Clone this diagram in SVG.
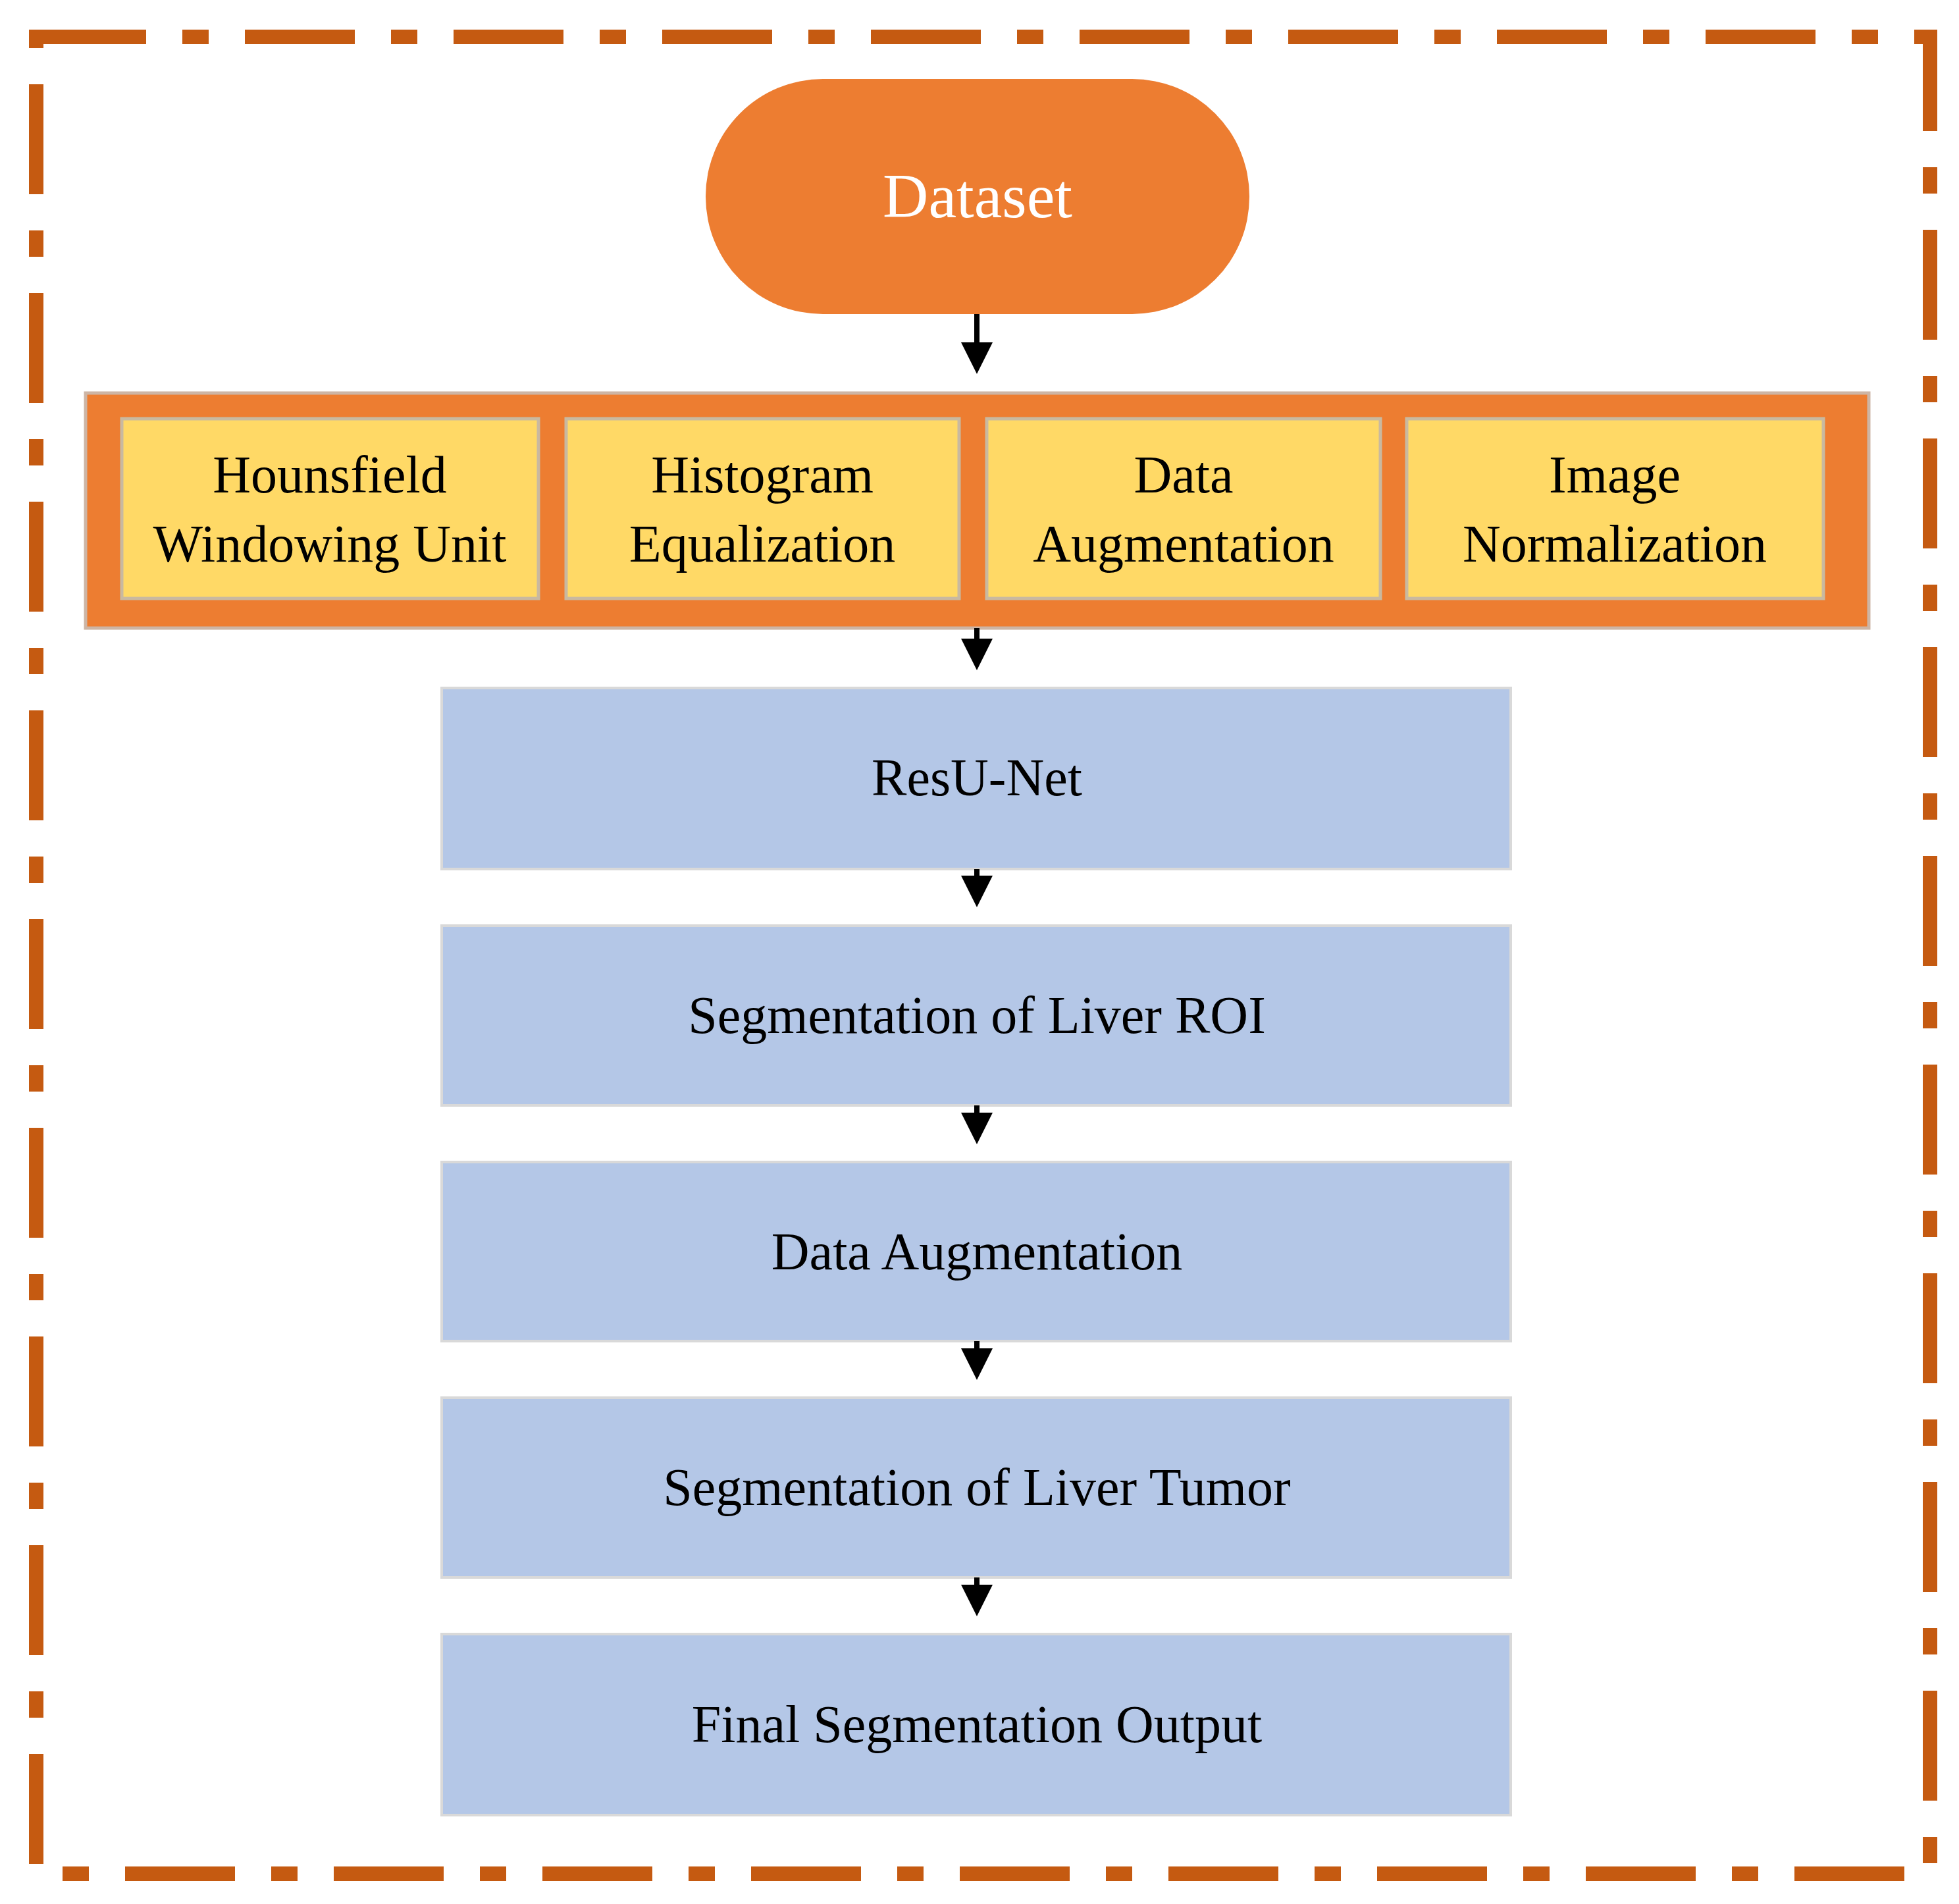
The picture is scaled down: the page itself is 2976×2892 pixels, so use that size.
<svg xmlns="http://www.w3.org/2000/svg" width="2976" height="2892" viewBox="0 0 2976 2892">
<style>
.t{font-family:"Liberation Serif",serif;fill:#000;text-anchor:middle;font-size:80px}
.b{fill:#B4C7E7;stroke:#d9d9d9;stroke-width:4}
.y{fill:#FFD966;stroke:#c9b9a0;stroke-width:5}
.c{stroke:#000;stroke-width:8;marker-end:url(#ah)}
</style>
<defs><marker id="ah" markerWidth="6" markerHeight="6" refX="5" refY="3" orient="auto" markerUnits="strokeWidth"><path d="M0,0L6,3L0,6z" fill="#000"/></marker></defs>
<rect x="2976" y="0" width="0" height="0"/>
<rect x="0" y="0" width="2976" height="2892" fill="#fff"/>
<rect id="frame" x="55" y="56" width="2877" height="2790" fill="none" stroke="#C55A11" stroke-width="22" stroke-dasharray="167 55 40 55"/>
<g id="dataset"><rect x="1072" y="120" width="826" height="357" rx="178" fill="#ED7D31"/><text class="t" x="1485" y="330" style="fill:#fff;font-size:96px">Dataset</text></g>
<g id="preprocess"><rect x="130" y="597" width="2709" height="357" fill="#ED7D31" stroke="#cdb5a5" stroke-width="5"/>
<rect class="y" x="185" y="636" width="633" height="273"/><text class="t" x="501" y="748">Hounsfield</text><text class="t" x="501" y="853">Windowing Unit</text>
<rect class="y" x="860" y="636" width="597" height="273"/><text class="t" x="1158" y="748">Histogram</text><text class="t" x="1158" y="853">Equalization</text>
<rect class="y" x="1499" y="636" width="598" height="273"/><text class="t" x="1798" y="748">Data</text><text class="t" x="1798" y="853">Augmentation</text>
<rect class="y" x="2137" y="636" width="633" height="273"/><text class="t" x="2453" y="748">Image</text><text class="t" x="2453" y="853">Normalization</text></g>
<g id="resunet"><rect class="b" x="671" y="1045" width="1624" height="275"/><text class="t" x="1484" y="1208">ResU-Net</text></g>
<g id="liverroi"><rect class="b" x="671" y="1406" width="1624" height="273"/><text class="t" x="1484" y="1569">Segmentation of Liver ROI</text></g>
<g id="aug"><rect class="b" x="671" y="1765" width="1624" height="272"/><text class="t" x="1484" y="1928">Data Augmentation</text></g>
<g id="tumor"><rect class="b" x="671" y="2123" width="1624" height="273"/><text class="t" x="1484" y="2286">Segmentation of Liver Tumor</text></g>
<g id="final"><rect class="b" x="671" y="2482" width="1624" height="275"/><text class="t" x="1484" y="2646">Final Segmentation Output</text></g>
<g id="connectors">
<line class="c" x1="1484" y1="477" x2="1484" y2="560"/>
<line class="c" x1="1484" y1="954" x2="1484" y2="1010"/>
<line class="c" x1="1484" y1="1320" x2="1484" y2="1370"/>
<line class="c" x1="1484" y1="1679" x2="1484" y2="1730"/>
<line class="c" x1="1484" y1="2037" x2="1484" y2="2088"/>
<line class="c" x1="1484" y1="2396" x2="1484" y2="2447"/>
</g>
</svg>
